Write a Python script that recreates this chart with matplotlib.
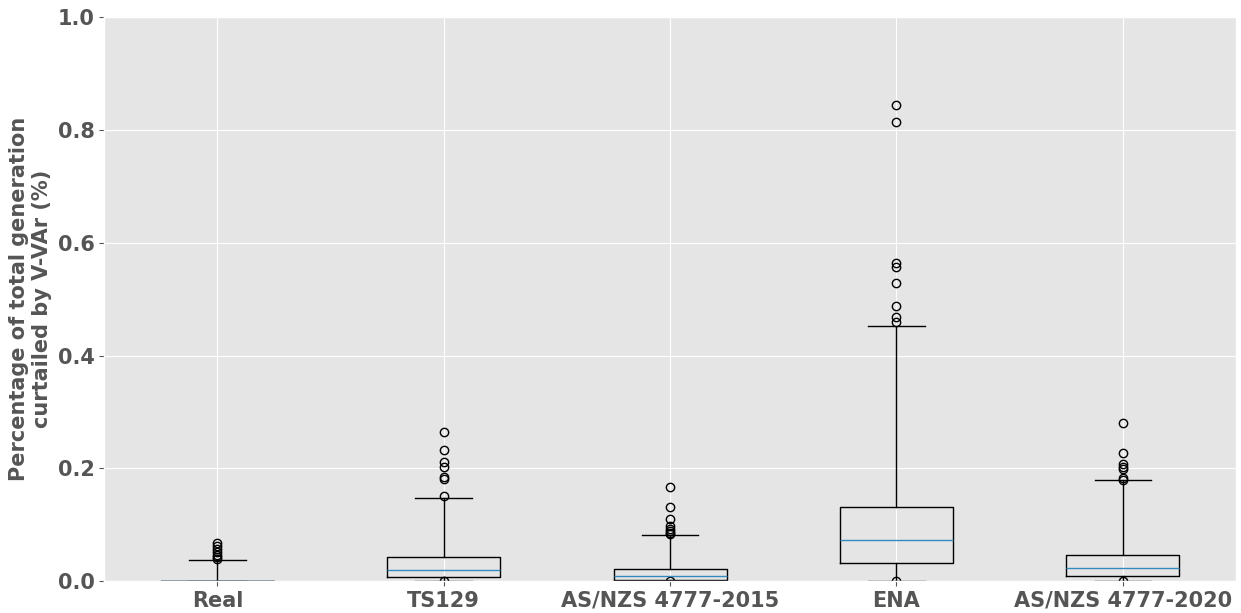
import matplotlib
matplotlib.use('Agg')
import matplotlib.pyplot as plt

plt.style.use('ggplot')

labels = ['Real', 'TS129', 'AS/NZS 4777-2015', 'ENA', 'AS/NZS 4777-2020']

# box statistics (percent)
q1 = [0.0, 0.0065, 0.0024, 0.0325, 0.0083]
med = [0.0, 0.019, 0.0083, 0.0733, 0.0225]
q3 = [0.0, 0.0426, 0.0213, 0.1307, 0.046]
whislo = [0.0, 0.0, 0.0, 0.0, 0.0]
whishi = [0.0367, 0.148, 0.082, 0.4527, 0.1785]

fliers_real = [0.039, 0.043, 0.047, 0.052, 0.057, 0.062, 0.068]
fliers_ts129 = [0.0, 0.151, 0.181, 0.184, 0.203, 0.212, 0.232, 0.265]
fliers_as2015 = [0.0, 0.083, 0.085, 0.088, 0.093, 0.0975, 0.111, 0.131, 0.167]
fliers_ena = [0.0, 0.460, 0.469, 0.488, 0.529, 0.557, 0.564, 0.814, 0.845]
fliers_as2020 = [0.0, 0.1785, 0.183, 0.1986, 0.2027, 0.2075, 0.227, 0.2795]
fliers = [fliers_real, fliers_ts129, fliers_as2015, fliers_ena, fliers_as2020]

stats = []
for i in range(len(labels)):
    stats.append(dict(label=labels[i], q1=q1[i], med=med[i], q3=q3[i],
                      whislo=whislo[i], whishi=whishi[i], fliers=fliers[i]))

fig, ax = plt.subplots(figsize=(12.41, 6.13), dpi=100)
fig.subplots_adjust(left=0.084, right=0.996, top=0.972, bottom=0.052)

ax.bxp(stats)
ax.set_ylim(0, 1.0)
ax.set_ylabel('Percentage of total generation\ncurtailed by V-VAr (%)',
              fontsize=15, fontweight='bold', color='#555555')
ax.tick_params(axis='both', labelsize=15, colors='#555555')
for t in ax.get_xticklabels() + ax.get_yticklabels():
    t.set_fontweight('bold')

fig.savefig('out.png', dpi=100)
